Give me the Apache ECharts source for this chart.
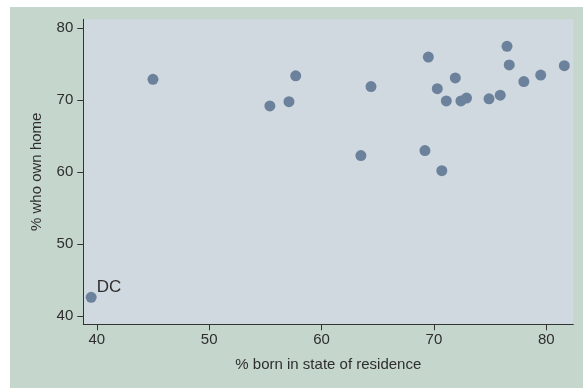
<!DOCTYPE html>
<html>
<head>
<meta charset="utf-8">
<script src="https://cdn.jsdelivr.net/npm/echarts@6/dist/echarts.min.js"></script>
<style>
html,body{margin:0;padding:0;background:#ffffff;width:583px;height:388px;overflow:hidden;}
#chart{position:absolute;left:10px;top:7px;width:573px;height:381px;}
</style>
</head>
<body>
<div id="chart"></div>
<script>
// % born in state of residence
const bornInState = [39.5, 45.0, 55.4, 57.1, 57.7, 63.5, 64.4, 69.2, 69.5, 70.3, 70.7, 71.1, 71.9, 72.4, 72.9, 74.9, 75.9, 76.5, 76.7, 78.0, 79.5, 81.6];
// % who own home
const ownHome = [42.6, 72.9, 69.2, 69.8, 73.4, 62.3, 71.9, 63.0, 76.0, 71.6, 60.2, 69.9, 73.1, 69.9, 70.3, 70.2, 70.7, 77.5, 74.9, 72.6, 73.5, 74.8];
const pointLabels = ['DC', '', '', '', '', '', '', '', '', '', '', '', '', '', '', '', '', '', '', '', '', ''];
const xTicks = [40, 50, 60, 70, 80];
const yTicks = [40, 50, 60, 70, 80];
const xTitle = '% born in state of residence';
const yTitle = '% who own home';

const data = bornInState.map((x, i) => ({
  value: [x, ownHome[i]],
  label: { show: pointLabels[i] !== '', formatter: pointLabels[i] }
}));

const font = 'Liberation Sans, Arial, Helvetica, sans-serif';
const textColor = '#2e2e2e';

const chart = echarts.init(document.getElementById('chart'), null, { renderer: 'canvas' });
chart.setOption({
  backgroundColor: '#c5d6cc',
  animation: false,
  grid: {
    left: 73.3, right: 9.7, top: 12.3, bottom: 63.7,
    show: true, backgroundColor: '#d1d9e0', borderWidth: 0
  },
  xAxis: {
    type: 'value', min: 38.8, max: 82.4,
    name: xTitle, nameLocation: 'middle', nameGap: 33,
    nameTextStyle: { color: textColor, fontSize: 15, fontFamily: font },
    axisLine: { show: true, onZero: false, lineStyle: { color: '#333', width: 1 } },
    axisTick: { show: true, length: 6, customValues: xTicks, lineStyle: { color: '#333' } },
    axisLabel: { customValues: xTicks, color: textColor, fontSize: 15, fontFamily: font, margin: 8 },
    splitLine: { show: false }
  },
  yAxis: {
    type: 'value', min: 38.85, max: 81.25,
    name: yTitle, nameLocation: 'middle', nameGap: 39,
    nameTextStyle: { color: textColor, fontSize: 15, fontFamily: font },
    axisLine: { show: true, onZero: false, lineStyle: { color: '#333', width: 1 } },
    axisTick: { show: true, length: 6, customValues: yTicks, lineStyle: { color: '#333' } },
    axisLabel: { customValues: yTicks, color: textColor, fontSize: 15, fontFamily: font, margin: 10 },
    splitLine: { show: false }
  },
  series: [{
    type: 'scatter',
    data: data,
    symbolSize: 11,
    itemStyle: { color: '#6c829c', opacity: 1 },
    label: {
      position: 'right', distance: 0, offset: [0, -10.5],
      color: textColor, fontSize: 17, fontFamily: font
    }
  }]
});
</script>
</body>
</html>
